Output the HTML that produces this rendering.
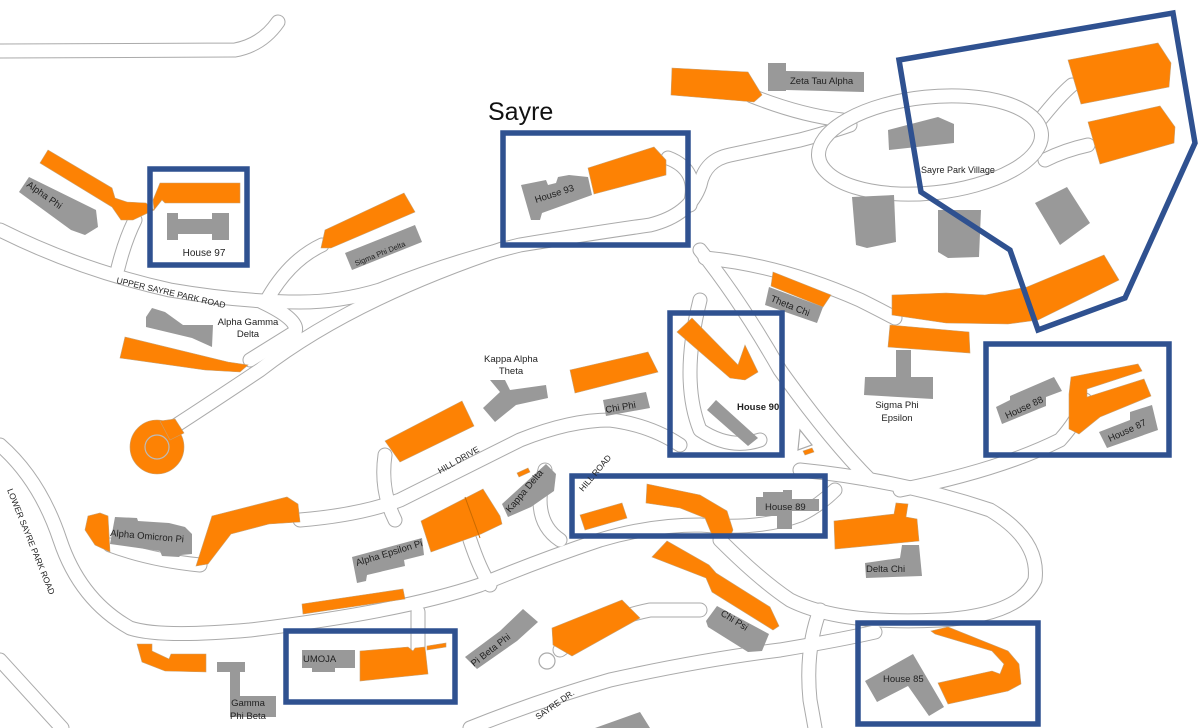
<!DOCTYPE html>
<html><head><meta charset="utf-8"><style>
html,body{margin:0;padding:0;background:#fff}
svg{display:block}
text{font-family:"Liberation Sans",sans-serif;fill:#222}
.o{fill:#fd8204;stroke:#c9a070;stroke-width:.6}
.g{fill:#999}
.b{fill:none;stroke:#2f5190;stroke-width:5.5}
.ro{fill:none;stroke:#aaa;stroke-width:15;stroke-linecap:round;stroke-linejoin:round}
.ri{fill:none;stroke:#fff;stroke-width:13;stroke-linecap:round;stroke-linejoin:round}
.t{font-size:9.5px}
</style></head><body>
<svg width="1199" height="728" viewBox="0 0 1199 728" xmlns="http://www.w3.org/2000/svg">
<defs>
<g id="roads">
<path d="M0,51 L235,50 Q262,45 278,22"/>
<path d="M0,230 Q80,270 170,290 Q240,302 300,302 Q340,302 380,290 Q450,262 520,245 Q600,232 650,225 Q690,215 700,185 Q705,160 730,155 L800,140 Q830,132 850,125"/>
<path d="M505,248 Q350,300 260,370 Q200,410 172,428"/>
<path d="M262,302 Q300,320 295,332 L250,360"/>
<path d="M118,268 Q125,240 135,220"/>
<path d="M268,298 Q290,260 322,245"/>
<path d="M668,158 Q700,170 690,205"/>
<path d="M752,96 Q800,115 842,120"/>
<path d="M0,445 Q40,480 60,540 Q80,600 130,628 Q160,638 250,630 Q400,612 480,585 Q540,560 600,540 Q650,525 700,525 Q760,530 800,515 Q820,505 835,490"/>
<path d="M0,660 L62,728"/>
<path d="M300,520 Q360,515 400,500 Q460,470 520,440 Q570,420 610,420 Q650,425 680,445"/>
<path d="M385,455 Q380,490 395,520"/>
<path d="M700,250 Q740,300 780,370 Q830,440 870,480"/>
<path d="M705,258 Q780,265 860,300 Q880,310 895,318"/>
<path d="M800,470 Q900,480 990,510 Q1040,540 1035,580 Q1020,615 940,620 Q840,625 790,600 Q760,580 720,540"/>
<path d="M900,490 Q1000,470 1060,440 Q1078,420 1085,400"/>
<path d="M470,728 Q540,700 610,680 Q700,660 780,650 Q840,640 875,632"/>
<path d="M418,612 L418,650"/>
<path d="M470,540 Q480,570 490,585"/>
<path d="M560,650 Q600,620 650,610 L700,610"/>
<path d="M545,470 Q530,520 560,540"/>
<path d="M1040,120 Q1060,95 1072,85"/>
<path d="M1045,160 Q1065,150 1088,145"/>
<path d="M110,545 Q150,560 200,565"/>
<path d="M820,610 Q805,650 810,700 L815,728"/>
<path d="M700,300 Q680,380 700,430 Q730,450 760,440"/>
</g>
</defs>
<use href="#roads" class="ro"/>
<use href="#roads" class="ri"/>
<ellipse cx="930" cy="145" rx="112" ry="48" transform="rotate(-6 930 145)" fill="none" stroke="#aaa" stroke-width="15"/>
<ellipse cx="930" cy="145" rx="112" ry="48" transform="rotate(-6 930 145)" fill="none" stroke="#fff" stroke-width="13"/>
<circle cx="547" cy="661" r="8" fill="none" stroke="#aaa" stroke-width="1.2"/>
<path d="M800,430 L812,445 L798,450 Z" fill="none" stroke="#aaa" stroke-width="1.2"/>

<polygon class="o" points="40,163 48,150 112,188 115,198 127,202 146,203 154,210 133,220 121,220 112,207"/>
<polygon class="o" points="160,183 240,183 240,203 165,203 162,200 154,210 153,200"/>
<polygon class="o" points="325,230 404,193 415,212 331,248 321,248"/>
<polygon class="o" points="125,337 228,362 248,365 240,372 205,370 120,358"/>
<polygon class="o" points="672,68 748,72 762,95 754,102 671,95"/>
<polygon class="o" points="588,168 654,147 666,160 666,175 594,194"/>
<polygon class="o" points="1068,60 1158,43 1171,63 1169,87 1081,104"/>
<polygon class="o" points="1088,122 1160,106 1175,127 1174,143 1100,164"/>
<polygon class="o" points="892,295 946,293 985,295 1027,287 1104,255 1119,280 1038,320 1008,324 946,323 892,315"/>
<polygon class="o" points="773,272 831,295 823,307 771,286"/>
<polygon class="o" points="890,325 969,332 970,353 888,347"/>
<polygon class="o" points="677,332 692,318 738,365 745,345 758,372 745,380 730,378"/>
<polygon class="o" points="570,370 648,352 658,372 575,393"/>
<polygon class="o" points="385,441 462,401 474,426 400,462"/>
<circle class="o" cx="157" cy="447" r="27"/>
<polygon class="o" points="160,421 175,419 184,433 170,440"/>
<circle cx="157" cy="447" r="12" fill="none" stroke="#bbb" stroke-width="1.2"/>
<polygon class="o" points="88,516 100,513 108,516 110,552 95,545 85,530"/>
<polygon class="o" points="212,516 287,497 298,504 300,522 269,524 231,534 208,564 196,566"/>
<polygon class="o" points="421,521 483,489 500,516 502,524 481,534 431,552"/>
<line x1="465" y1="497" x2="480" y2="538" stroke="#c96a00" stroke-width="1"/>
<polygon class="o" points="517,473 528,468 530,472 519,477"/>
<polygon class="o" points="302,604 403,589 405,599 303,614"/>
<polygon class="o" points="137,644 152,644 152,651 169,659 171,654 206,654 206,672 165,671 142,662"/>
<polygon class="o" points="360,651 408,647 413,651 415,648 425,647 428,674 360,681"/>
<polygon class="o" points="427,646 446,643 446,647 427,650"/>
<polygon class="o" points="552,628 622,600 640,618 572,656 553,645"/>
<polygon class="o" points="580,515 622,503 627,518 585,530"/>
<polygon class="o" points="647,484 700,495 727,511 733,530 730,537 712,535 705,518 680,508 646,503"/>
<polygon class="o" points="652,557 667,541 709,565 716,573 770,607 779,626 773,630 712,592 706,578"/>
<polygon class="o" points="834,521 894,514 896,503 908,504 906,517 917,519 919,541 835,549"/>
<polygon class="o" points="803,451 812,448 814,452 805,455"/>
<polygon class="o" points="1071,377 1138,364 1142,371 1087,389 1087,397 1144,379 1151,396 1100,417 1079,434 1069,429 1069,394"/>
<polygon class="o" points="931,631 948,627 1008,651 1019,664 1021,684 1008,691 948,704 938,683 992,671 1000,674 1004,664 992,651 935,634"/>

<polygon class="g" points="19,192 29,177 96,210 98,227 85,235 71,230"/>
<polygon class="g" points="167,213 178,213 178,219 212,219 212,213 229,213 229,240 212,240 212,234 178,234 178,240 167,240"/>
<polygon class="g" points="345,253 415,225 422,242 352,270"/>
<polygon class="g" points="521,185 546,180 548,185 556,183 558,177 569,175 588,177 592,195 542,213 540,220 531,220"/>
<polygon class="g" points="768,63 786,63 786,71 864,72 864,92 786,90 786,91 768,91"/>
<polygon class="g" points="888,130 938,117 954,124 954,143 889,150"/>
<polygon class="g" points="852,197 894,195 896,242 867,248 856,245"/>
<polygon class="g" points="938,210 981,210 979,257 948,258 938,252"/>
<polygon class="g" points="1035,203 1067,187 1090,223 1060,245"/>
<polygon class="g" points="765,305 769,287 823,307 817,323"/>
<polygon class="g" points="146,317 152,308 165,312 183,325 213,325 212,347 192,338 146,327"/>
<polygon class="g" points="490,380 505,380 510,390 546,385 548,398 516,405 495,422 483,408 500,392"/>
<polygon class="g" points="603,400 646,392 650,408 606,416"/>
<polygon class="g" points="707,410 716,400 758,438 748,446"/>
<polygon class="g" points="896,350 911,350 911,377 933,377 933,399 864,395 865,377 896,377"/>
<polygon class="g" points="996,407 1010,400 1010,396 1054,377 1062,391 1046,397 1046,406 1002,424"/>
<polygon class="g" points="1099,432 1130,420 1130,412 1152,405 1158,430 1107,448"/>
<polygon class="g" points="756,497 763,497 763,492 783,492 783,490 792,490 792,499 819,499 819,511 792,511 792,529 777,529 777,516 756,516"/>
<polygon class="g" points="865,563 900,558 902,545 919,545 922,576 866,578"/>
<polygon class="g" points="706,621 717,606 769,634 762,651 748,652 708,627"/>
<polygon class="g" points="865,681 913,654 944,707 929,716 908,686 877,702"/>
<polygon class="g" points="115,517 137,518 138,521 169,523 185,527 192,534 192,554 181,555 179,557 162,556 160,551 110,544"/>
<polygon class="g" points="352,557 422,538 424,555 404,560 405,566 367,575 366,581 357,583"/>
<polygon class="g" points="502,504 546,464 556,474 554,491 531,507 508,517"/>
<polygon class="g" points="465,657 500,631 523,609 538,622 517,641 477,669"/>
<polygon class="g" points="302,650 355,650 355,668 335,668 335,672 312,672 312,668 302,668"/>
<polygon class="g" points="217,662 245,662 245,672 240,672 240,696 276,696 276,717 230,717 230,672 217,672"/>
<polygon class="g" points="595,728 640,712 650,728"/>

<rect class="b" x="150" y="169" width="97" height="96"/>
<rect class="b" x="503" y="133" width="185" height="112"/>
<rect class="b" x="670" y="313" width="112" height="142"/>
<rect class="b" x="572" y="476" width="253" height="60"/>
<rect class="b" x="986" y="344" width="183" height="111"/>
<rect class="b" x="286" y="631" width="169" height="71"/>
<rect class="b" x="858" y="623" width="180" height="101"/>
<polygon class="b" points="899,60 1173,13 1195,143 1125,298 1038,330 1010,250 921,192"/>

<text x="488" y="120" style="font-size:25px;fill:#111">Sayre</text>
<text class="t" transform="translate(26,186) rotate(35)">Alpha Phi</text>
<text class="t" x="204" y="256" text-anchor="middle" style="font-size:10px">House 97</text>
<text class="t" transform="translate(356,266) rotate(-22)" style="font-size:7.5px">Sigma Phi Delta</text>
<text class="t" transform="translate(536,203) rotate(-18)">House 93</text>
<text class="t" x="790" y="84">Zeta Tau Alpha</text>
<text class="t" x="921" y="173" style="font-size:9px">Sayre Park Village</text>
<text class="t" transform="translate(770,301) rotate(22)">Theta Chi</text>
<text class="t" transform="translate(116,283) rotate(13)" style="font-size:8.5px">UPPER SAYRE PARK ROAD</text>
<text class="t" x="248" y="325" text-anchor="middle">Alpha Gamma</text>
<text class="t" x="248" y="337" text-anchor="middle">Delta</text>
<text class="t" x="511" y="362" text-anchor="middle">Kappa Alpha</text>
<text class="t" x="511" y="374" text-anchor="middle">Theta</text>
<text class="t" transform="translate(606,413) rotate(-10)">Chi Phi</text>
<text class="t" x="737" y="410" style="font-size:9.5px;font-weight:bold">House 90</text>
<text class="t" x="897" y="408" text-anchor="middle">Sigma Phi</text>
<text class="t" x="897" y="421" text-anchor="middle">Epsilon</text>
<text class="t" transform="translate(1007,419) rotate(-25)">House 88</text>
<text class="t" transform="translate(1110,442) rotate(-25)">House 87</text>
<text class="t" transform="translate(440,474) rotate(-30)" style="font-size:8.5px">HILL DRIVE</text>
<text class="t" transform="translate(583,492) rotate(-50)" style="font-size:8.5px">HILL ROAD</text>
<text class="t" x="765" y="510">House 89</text>
<text class="t" transform="translate(510,513) rotate(-50)">Kappa Delta</text>
<text class="t" transform="translate(110,536) rotate(5)">Alpha Omicron Pi</text>
<text class="t" transform="translate(357,566) rotate(-17)">Alpha Epsilon Pi</text>
<text class="t" x="866" y="572">Delta Chi</text>
<text class="t" transform="translate(720,615) rotate(32)">Chi Psi</text>
<text class="t" transform="translate(7,490) rotate(68)" style="font-size:8.5px">LOWER SAYRE PARK ROAD</text>
<text class="t" x="303" y="662">UMOJA</text>
<text class="t" transform="translate(474,667) rotate(-38)">Pi Beta Phi</text>
<text class="t" x="248" y="706" text-anchor="middle">Gamma</text>
<text class="t" x="248" y="719" text-anchor="middle">Phi Beta</text>
<text class="t" transform="translate(538,720) rotate(-35)" style="font-size:8.5px">SAYRE DR.</text>
<text class="t" x="883" y="682">House 85</text>
</svg>
</body></html>
